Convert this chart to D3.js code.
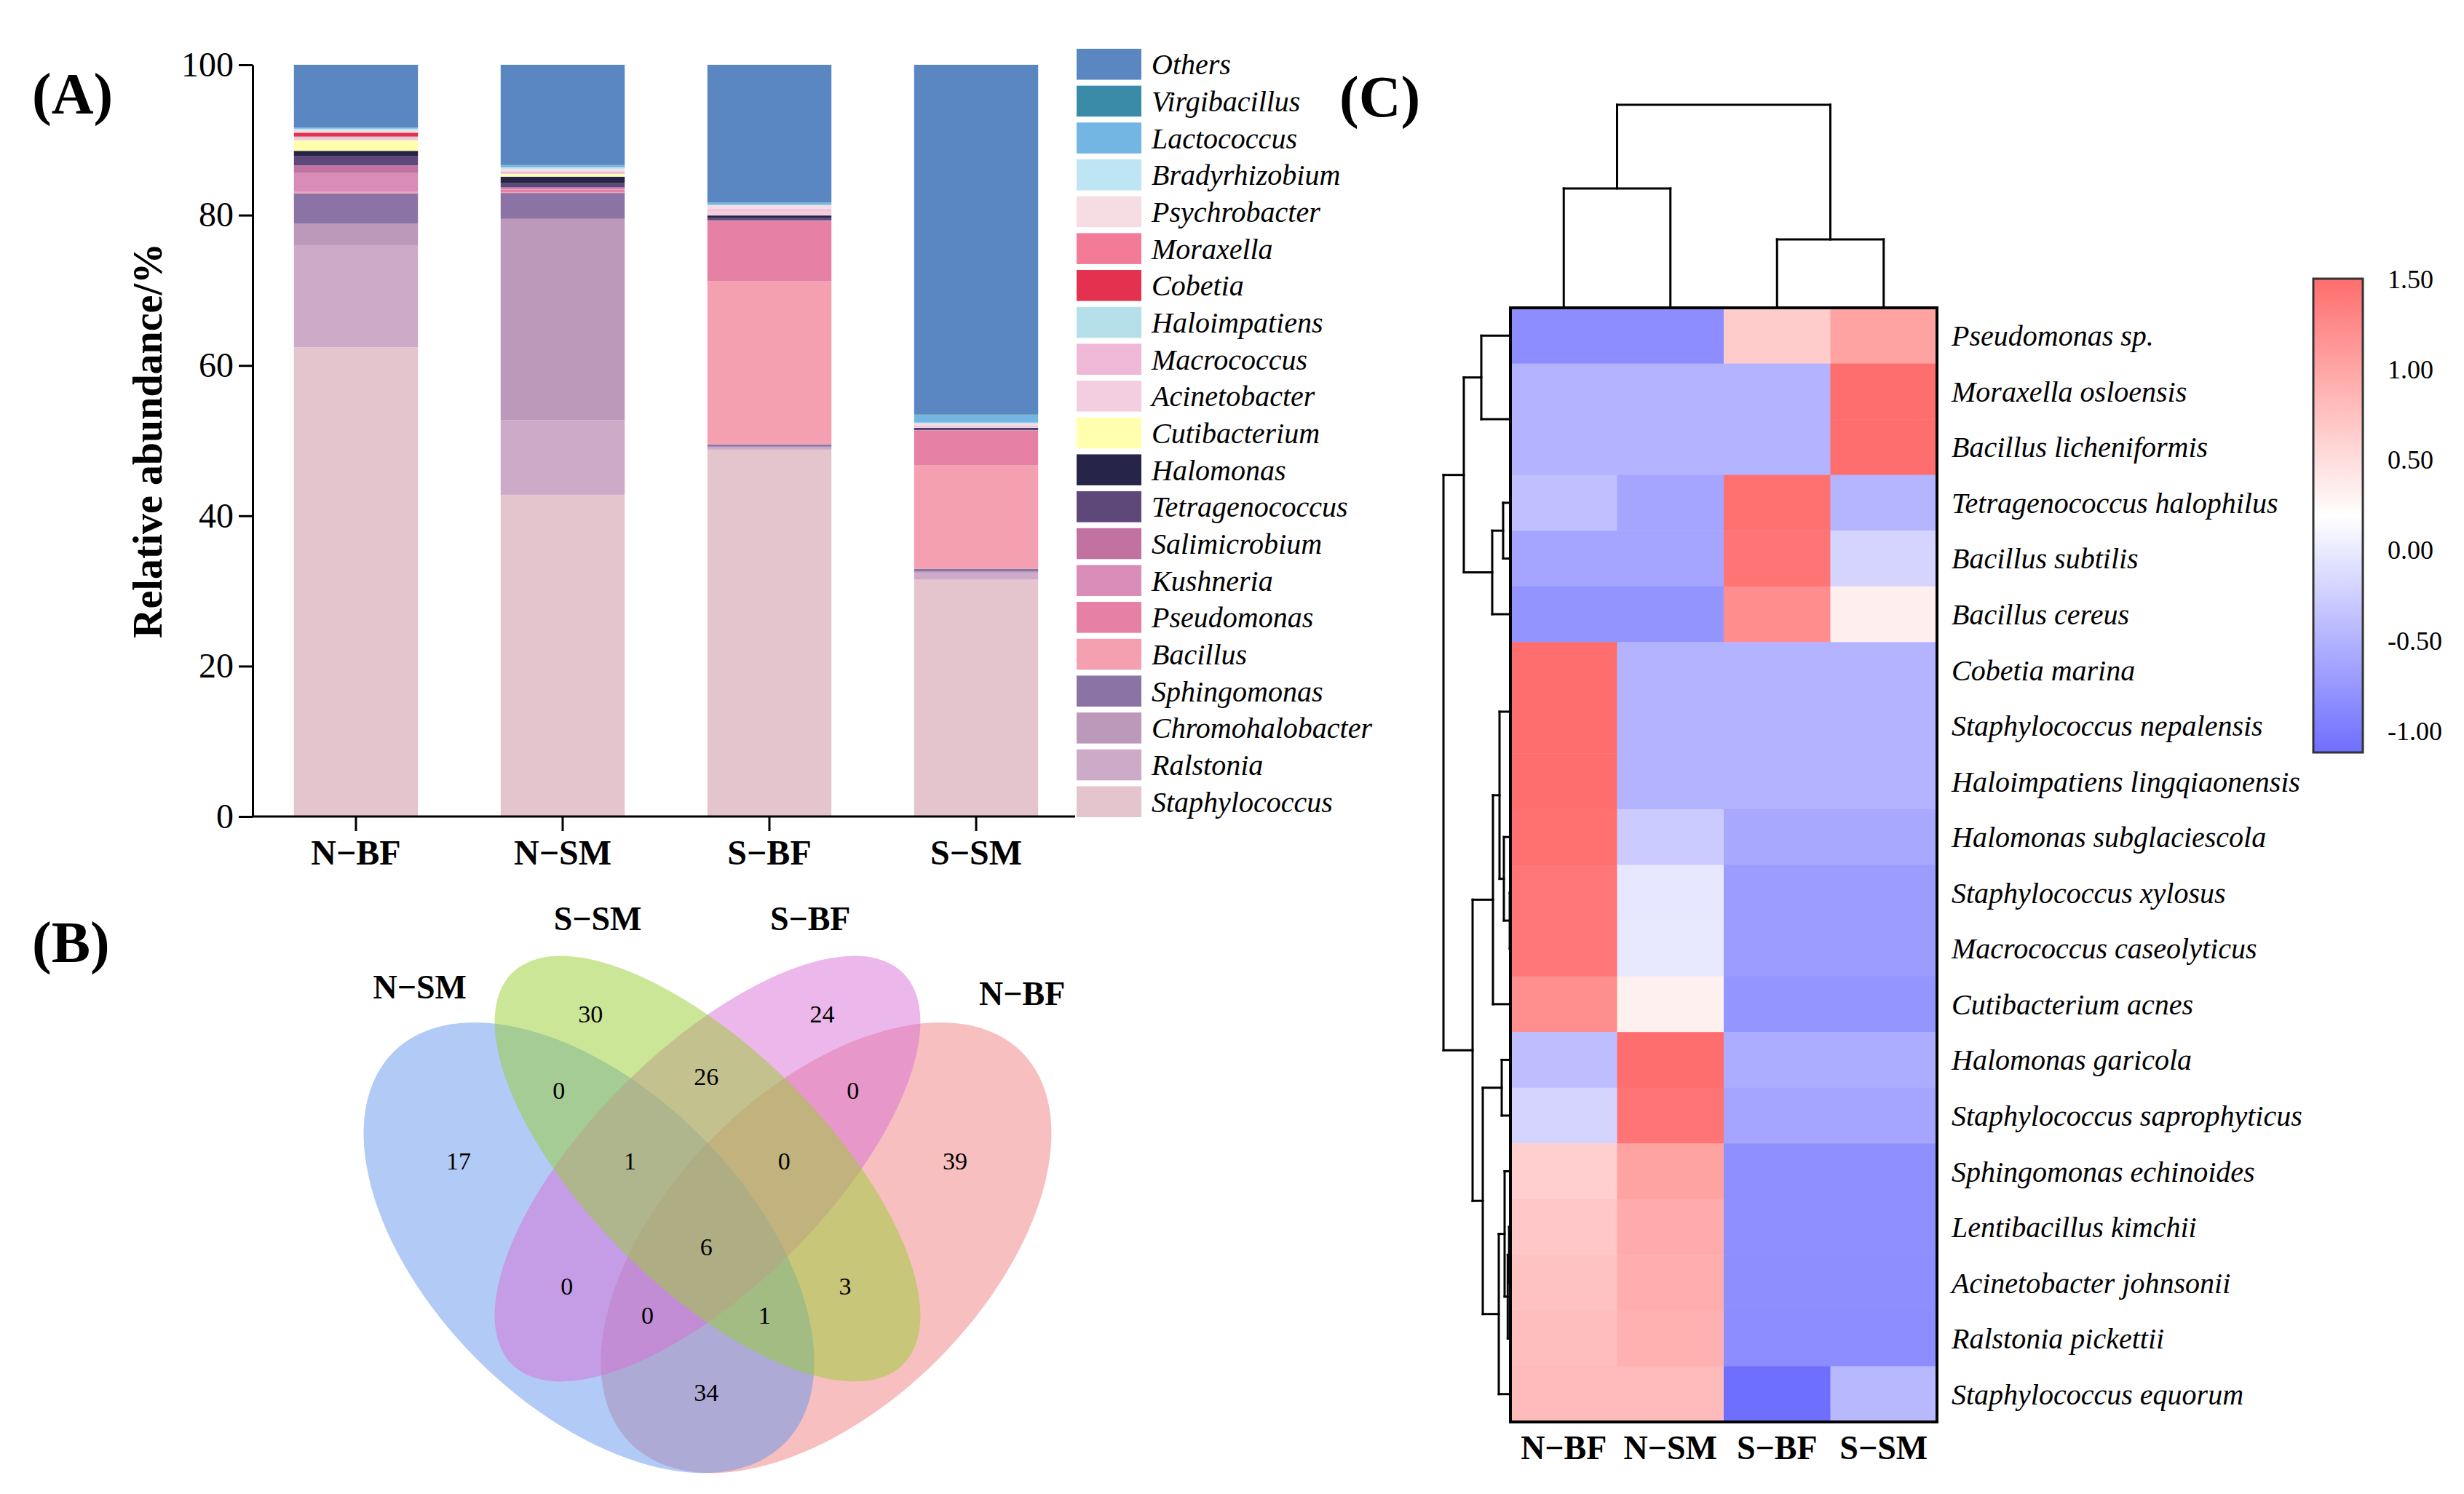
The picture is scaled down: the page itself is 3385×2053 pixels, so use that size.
<!DOCTYPE html>
<html>
<head>
<meta charset="utf-8">
<script src="https://cdn.jsdelivr.net/npm/d3@7"></script>
<style>
  body { margin: 0; background: #fff; }
  svg { display: block; font-family: "Times New Roman", "Liberation Serif", serif; }
</style>
</head>
<body>
<svg id="fig" width="3385" height="2053"></svg>
<script>
// ─── data ───────────────────────────────────────────────────────────────────
var samples = ['N−BF', 'N−SM', 'S−BF', 'S−SM'];

// genera in stacking order, bottom to top (legend shows them reversed)
var genera = ['Staphylococcus', 'Ralstonia', 'Chromohalobacter', 'Sphingomonas', 'Bacillus',
  'Pseudomonas', 'Kushneria', 'Salimicrobium', 'Tetragenococcus', 'Halomonas', 'Cutibacterium',
  'Acinetobacter', 'Macrococcus', 'Haloimpatiens', 'Cobetia', 'Moraxella', 'Psychrobacter',
  'Bradyrhizobium', 'Lactococcus', 'Virgibacillus', 'Others'];
var generaColors = ['#E4C5CE', '#CCAAC8', '#BC98BB', '#8C73A6', '#F4A0B0',
  '#E680A5', '#D98CB7', '#C272A0', '#5E4779', '#262448', '#FFFFAE',
  '#F3CEE0', '#EEB8D6', '#B5E0EA', '#E3314F', '#F47B98', '#F6DDE4',
  '#BEE5F4', '#74B6E3', '#3A8BA8', '#5A86C2'];

// relative abundance (%) per sample, same order as genera
var abundNBF = [62.4, 13.6, 2.9, 4.0, 0.1, 0.1, 2.5, 1.0, 1.3, 0.65, 1.4, 0.2, 0.2, 0.1, 0.5, 0.05, 0.3, 0.2, 0.15, 0.02, 8.33];
var abundNSM = [42.8, 9.9, 26.8, 3.45, 0.1, 0.35, 0.15, 0.15, 0.55, 0.87, 0.35, 0.1, 0.1, 0.05, 0.02, 0.02, 0.4, 0.2, 0.25, 0.05, 13.34];
var abundSBF = [48.8, 0.3, 0.1, 0.3, 21.7, 8.0, 0.05, 0.05, 0.35, 0.3, 0.02, 0.6, 0.1, 0.02, 0.02, 0.05, 0.55, 0.05, 0.3, 0.02, 18.32];
var abundSSM = [31.5, 0.9, 0.2, 0.35, 13.8, 4.6, 0.02, 0.02, 0.2, 0.1, 0.02, 0.1, 0.05, 0.02, 0.02, 0.05, 0.3, 0.15, 1.0, 0.1, 46.5];
var yTicks = [0, 20, 40, 60, 80, 100];

// Venn: sets and counts per region (membership code in vennSets order)
var vennSets = ['N−SM', 'S−SM', 'S−BF', 'N−BF'];
var vennColors = ['#6495ED', '#9ACD32', '#DA70D6', '#F08080'];
var vennRegions = ['1000', '0100', '0010', '0001', '1100', '0110', '0011', '1110',
  '0111', '1111', '1010', '0101', '1011', '1101', '1001'];
var vennCounts = [17, 30, 24, 39, 0, 26, 0, 1, 0, 6, 0, 3, 0, 1, 34];

// Heatmap: row z-scores, one array per sample column
var heatRows = ['Pseudomonas sp.', 'Moraxella osloensis', 'Bacillus licheniformis',
  'Tetragenococcus halophilus', 'Bacillus subtilis', 'Bacillus cereus', 'Cobetia marina',
  'Staphylococcus nepalensis', 'Haloimpatiens lingqiaonensis', 'Halomonas subglaciescola',
  'Staphylococcus xylosus', 'Macrococcus caseolyticus', 'Cutibacterium acnes',
  'Halomonas garicola', 'Staphylococcus saprophyticus', 'Sphingomonas echinoides',
  'Lentibacillus kimchii', 'Acinetobacter johnsonii', 'Ralstonia pickettii',
  'Staphylococcus equorum'];
var zNBF = [-0.84, -0.5, -0.5, -0.38, -0.62, -0.78, 1.5, 1.5, 1.5, 1.48, 1.43, 1.42, 1.2, -0.4, -0.2, 0.62, 0.7, 0.74, 0.78, 0.8];
var zNSM = [-0.84, -0.5, -0.5, -0.62, -0.62, -0.78, -0.5, -0.5, -0.5, -0.28, -0.03, -0.02, 0.33, 1.5, 1.45, 1.03, 0.95, 0.92, 0.9, 0.8];
var zSBF = [0.65, -0.5, -0.5, 1.48, 1.44, 1.22, -0.5, -0.5, -0.5, -0.6, -0.7, -0.7, -0.77, -0.55, -0.62, -0.82, -0.82, -0.83, -0.84, -1.15];
var zSSM = [1.03, 1.5, 1.5, -0.48, -0.2, 0.34, -0.5, -0.5, -0.5, -0.6, -0.7, -0.7, -0.77, -0.55, -0.62, -0.82, -0.82, -0.83, -0.84, -0.45];
var colorTicks = [1.5, 1.0, 0.5, 0.0, -0.5, -1.0];

// dendrograms as [height, left, right]; integers are leaf indices
var colTree = [1.0, [0.588, 0, 1], [0.337, 2, 3]];
var rowTree = [1.0,
  [0.696, [0.435, 0, [0, 1, 2]], [0.272, [0.109, 3, 4], 5]],
  [0.565,
    [0.261, [0.163, [0, 6, [0, 7, 8]], [0.098, 9, [0.01, 10, 11]]], 12],
    [0.413, [0.13, 13, 14], [0.174, [0.087, 15, [0.04, [0.02, 16, 17], 18]], 19]]]];

// ─── layout ─────────────────────────────────────────────────────────────────
var svg = d3.select('#fig');
var INK = '#000';

function panelLabel(text, x, y) {
  svg.append('text').attr('x', x).attr('y', y)
    .attr('font-size', 80).attr('font-weight', 'bold').text(text);
}
panelLabel('(A)', 44, 156);
panelLabel('(B)', 44, 1322);
panelLabel('(C)', 1840, 160);

// d3 axes set their own sans font on the group; hand it back to the svg
function serifAxis(sel, size, bold) {
  sel.attr('font-family', null).attr('font-size', null);
  sel.selectAll('text').attr('font-size', size).attr('font-weight', bold ? 'bold' : null);
  sel.selectAll('line,path').attr('stroke', INK).attr('stroke-width', 3);
}

// ─── (A) stacked bars ──────────────────────────────────────────────────────
(function () {
  var x = d3.scaleBand().domain(samples).range([347, 1483]).paddingInner(0.4).paddingOuter(0.2);
  var y = d3.scaleLinear().domain([0, 100]).range([1122, 89]);
  var cols = [abundNBF, abundNSM, abundSBF, abundSSM];
  var rows = samples.map(function (s, i) {
    var o = { sample: s };
    genera.forEach(function (g, j) { o[g] = cols[i][j]; });
    return o;
  });
  var series = d3.stack().keys(genera)(rows);
  var color = d3.scaleOrdinal().domain(genera).range(generaColors);

  var g = svg.append('g');
  g.selectAll('g.layer').data(series).join('g')
    .attr('class', 'layer')
    .attr('fill', function (d) { return color(d.key); })
    .selectAll('rect').data(function (d) { return d; }).join('rect')
    .attr('x', function (d) { return x(d.data.sample); })
    .attr('width', x.bandwidth())
    .attr('y', function (d) { return y(d[1]); })
    .attr('height', function (d) { return Math.max(0, y(d[0]) - y(d[1])); });

  var ya = g.append('g').attr('transform', 'translate(347,0)')
    .call(d3.axisLeft(y).tickValues(yTicks).tickSize(19).tickPadding(7).tickSizeOuter(0));
  serifAxis(ya, 48, false);

  var xa = g.append('g').attr('transform', 'translate(0,1122)')
    .call(d3.axisBottom(x).tickSize(20).tickPadding(12).tickSizeOuter(0));
  xa.select('path.domain').attr('d', 'M' + x.range()[0] + ',0H' + (x.range()[1] - 6));
  serifAxis(xa, 48, true);

  g.append('text')
    .attr('transform', 'translate(222,' + y(50) + ') rotate(-90)')
    .attr('text-anchor', 'middle').attr('font-size', 56).attr('font-weight', 'bold')
    .text('Relative abundance/%');

  // legend, top entry = last stacked genus
  var legendItems = genera.slice().reverse();
  var ly = d3.scaleBand().domain(legendItems).range([67, 1123]).paddingInner(0.16);
  var lg = g.append('g');
  lg.selectAll('rect').data(legendItems).join('rect')
    .attr('x', 1479).attr('width', 89)
    .attr('y', function (d) { return ly(d); })
    .attr('height', ly.bandwidth())
    .attr('fill', function (d) { return color(d); });
  lg.selectAll('text').data(legendItems).join('text')
    .attr('x', 1582)
    .attr('y', function (d) { return ly(d) + ly.bandwidth() / 2; })
    .attr('dy', '0.35em')
    .attr('font-size', 40).attr('font-style', 'italic')
    .text(function (d) { return d; });
})();

// ─── (B) four-set Venn ─────────────────────────────────────────────────────
(function () {
  var vx = d3.scaleLinear().domain([0, 1]).range([429, 1515]);
  var vy = d3.scaleLinear().domain([0, 1]).range([2225, 1139]);
  var unit = vx(1) - vx(0);
  // ellipse geometry in Venn units: cx, cy, a, b, screen rotation
  var shapes = [
    { cx: 0.35, cy: 0.47, a: 0.35, b: 0.20, rot: 45 },
    { cx: 0.50, cy: 0.57, a: 0.35, b: 0.15, rot: 45 },
    { cx: 0.50, cy: 0.57, a: 0.35, b: 0.15, rot: -45 },
    { cx: 0.65, cy: 0.47, a: 0.35, b: 0.20, rot: -45 }
  ];
  var drawOrder = [3, 0, 2, 1];
  var g = svg.append('g');
  g.selectAll('ellipse').data(drawOrder).join('ellipse')
    .attr('transform', function (i) {
      var s = shapes[i];
      return 'translate(' + vx(s.cx) + ',' + vy(s.cy) + ') rotate(' + s.rot + ')';
    })
    .attr('rx', function (i) { return shapes[i].a * unit; })
    .attr('ry', function (i) { return shapes[i].b * unit; })
    .attr('fill', function (i) { return vennColors[i]; })
    .attr('fill-opacity', 0.5);

  var regionPos = {
    '1000': [0.185, 0.580], '0100': [0.352, 0.766], '0010': [0.645, 0.766], '0001': [0.813, 0.580],
    '1100': [0.312, 0.669], '0110': [0.4985, 0.687], '0011': [0.684, 0.669],
    '1110': [0.402, 0.580], '0111': [0.597, 0.580], '1111': [0.4985, 0.471],
    '1010': [0.322, 0.422], '0101': [0.674, 0.422], '1011': [0.424, 0.385],
    '1101': [0.572, 0.385], '1001': [0.4985, 0.287]
  };
  g.selectAll('text.count').data(vennRegions).join('text')
    .attr('class', 'count')
    .attr('x', function (r) { return vx(regionPos[r][0]); })
    .attr('y', function (r) { return vy(regionPos[r][1]); })
    .attr('dy', '0.35em').attr('text-anchor', 'middle').attr('font-size', 34)
    .text(function (r, i) { return vennCounts[i]; });

  var labelPos = [[0.136, 0.785], [0.361, 0.872], [0.630, 0.872], [0.898, 0.777]];
  g.selectAll('text.set').data(vennSets).join('text')
    .attr('class', 'set')
    .attr('x', function (d, i) { return vx(labelPos[i][0]); })
    .attr('y', function (d, i) { return vy(labelPos[i][1]); })
    .attr('text-anchor', 'middle').attr('font-size', 46).attr('font-weight', 'bold')
    .text(function (d) { return d; });
})();

// ─── (C) clustered heatmap ─────────────────────────────────────────────────
(function () {
  var hx = d3.scaleBand().domain(d3.range(samples.length)).range([2075, 2661]);
  var hy = d3.scaleBand().domain(d3.range(heatRows.length)).range([423, 1954]);
  var color = d3.scaleLinear().domain([-1.12, 0.19, 1.5])
    .range(['#6E6EFF', '#FFFFFF', '#FF6E6E']).clamp(true);
  var cols = [zNBF, zNSM, zSBF, zSSM];
  var cells = [];
  heatRows.forEach(function (r, i) {
    cols.forEach(function (c, j) { cells.push({ row: i, col: j, v: c[i] }); });
  });
  var g = svg.append('g');
  g.selectAll('rect.cell').data(cells).join('rect')
    .attr('class', 'cell')
    .attr('x', function (d) { return hx(d.col); })
    .attr('y', function (d) { return hy(d.row); })
    .attr('width', hx.bandwidth() + 0.5)
    .attr('height', hy.bandwidth() + 0.5)
    .attr('fill', function (d) { return color(d.v); });
  g.append('rect')
    .attr('x', hx.range()[0]).attr('y', hy.range()[0])
    .attr('width', hx.range()[1] - hx.range()[0])
    .attr('height', hy.range()[1] - hy.range()[0])
    .attr('fill', 'none').attr('stroke', INK).attr('stroke-width', 4);

  g.selectAll('text.rowlab').data(heatRows).join('text')
    .attr('class', 'rowlab')
    .attr('x', hx.range()[1] + 20)
    .attr('y', function (d, i) { return hy(i) + hy.bandwidth() / 2; })
    .attr('dy', '0.35em').attr('font-size', 40).attr('font-style', 'italic')
    .text(function (d) { return d; });
  g.selectAll('text.collab').data(samples).join('text')
    .attr('class', 'collab')
    .attr('x', function (d, i) { return hx(i) + hx.bandwidth() / 2; })
    .attr('y', 2005)
    .attr('text-anchor', 'middle').attr('font-size', 46).attr('font-weight', 'bold')
    .text(function (d) { return d; });

  // dendrograms: returns leaf-axis position of a node, drawing elbows on the way
  function drawTree(node, pos, hgt, seg) {
    if (typeof node === 'number') return { p: pos(node), h: 0 };
    var l = drawTree(node[1], pos, hgt, seg);
    var r = drawTree(node[2], pos, hgt, seg);
    var h = node[0];
    seg(l.p, hgt(l.h), l.p, hgt(h));
    seg(r.p, hgt(r.h), r.p, hgt(h));
    seg(l.p, hgt(h), r.p, hgt(h));
    return { p: (l.p + r.p) / 2, h: h };
  }
  var tg = g.append('g').attr('stroke', INK).attr('stroke-width', 3)
    .attr('stroke-linecap', 'square').attr('fill', 'none');
  var colH = d3.scaleLinear().domain([0, 1]).range([hy.range()[0], 144]);
  drawTree(colTree, function (i) { return hx(i) + hx.bandwidth() / 2; }, colH,
    function (p1, h1, p2, h2) {
      tg.append('line').attr('x1', p1).attr('y1', h1).attr('x2', p2).attr('y2', h2);
    });
  var rowH = d3.scaleLinear().domain([0, 1]).range([hx.range()[0], 1983]);
  drawTree(rowTree, function (i) { return hy(i) + hy.bandwidth() / 2; }, rowH,
    function (p1, h1, p2, h2) {
      tg.append('line').attr('x1', h1).attr('y1', p1).attr('x2', h2).attr('y2', p2);
    });

  // colour key
  var ky = d3.scaleLinear().domain([-1.12, 1.5]).range([1034, 383]);
  var grad = svg.append('defs').append('linearGradient')
    .attr('id', 'keyGrad').attr('x1', 0).attr('y1', 1).attr('x2', 0).attr('y2', 0);
  grad.selectAll('stop').data(d3.range(0, 1.0001, 0.05)).join('stop')
    .attr('offset', function (t) { return t; })
    .attr('stop-color', function (t) { return color(-1.12 + t * 2.62); });
  g.append('rect')
    .attr('x', 3178).attr('width', 68)
    .attr('y', ky(1.5)).attr('height', ky(-1.12) - ky(1.5))
    .attr('fill', 'url(#keyGrad)').attr('stroke', '#333').attr('stroke-width', 3);
  g.selectAll('text.key').data(colorTicks).join('text')
    .attr('class', 'key')
    .attr('x', 3280)
    .attr('y', function (d) { return ky(d); })
    .attr('dy', '0.35em').attr('font-size', 36)
    .text(function (d) { return d.toFixed(2); });
})();
</script>
</body>
</html>
